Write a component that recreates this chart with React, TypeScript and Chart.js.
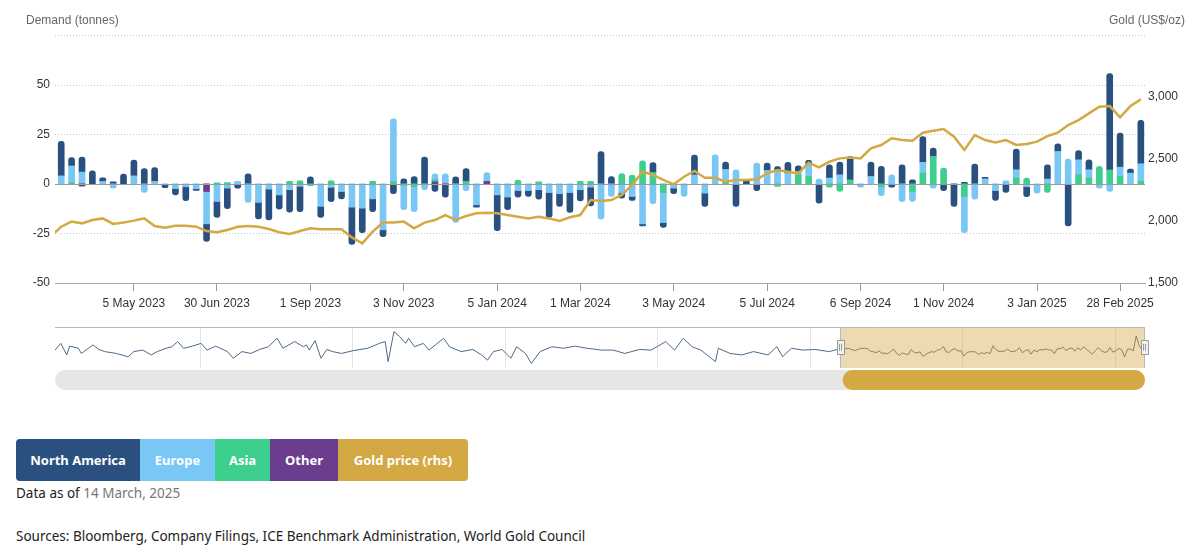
import { useEffect, useRef } from 'react';
import { Chart, registerables } from 'chart.js';

Chart.register(...registerables);

// Weekly ETF gold demand by region (tonnes), weeks ending 17 Mar 2023 .. 14 Mar 2025
const northAmerica = [
  17.4, 4.2, 7.6, 6.6, 1.8, 1.0, 4.9, 7.9, 7.7, 7.0,
  -1.5, -3.2, -7.0, -0.8, -8.9, -8.0, -10.3, -2.2, 5.0, -8.3,
  -15.5, -7.2, -11.3, -12.8, 3.5, -5.6, -7.2, -3.7, -18.7, -12.3,
  -6.4, -3.4, -5.0, 2.5, 3.7, 13.5, -3.8, -5.7, 3.5, 6.5,
  -1.2, 0, -18.0, -6.4, -3.4, -3.0, -4.7, -12.5, -6.4, -10.0,
  -5.6, -9.4, 16.3, 3.7, -2.5, -2.0, -1.0, 5.0, -2.5, -2.8,
  0, 10.0, -6.7, 0, 3.8, -11.4, 2.0, -3.4, 3.7, 2.5,
  5.4, 2.9, 2.2, -9.8, 6.7, 6.4, 11.8, 0, 7.2, 8.8,
  -1.7, 9.6, 2.0, 13.0, 4.2, -3.4, -11.4, 0.7, 10.0, 0.8,
  -5.0, -4.4, 10.4, -5.0, 0, 7.2, 3.9, -21.2, 4.7, 5.0,
  0, 48.5, 17.2, 2.0, 21.9,
];

const europe = [
  4.0, 8.5, 5.9, 0, 1.2, -2.2, 0, 4.0, -4.4, 1.2,
  -0.5, -2.4, -1.5, -2.5, -16.3, -8.9, -2.2, 1.2, -9.4, -9.4,
  -2.7, -5.6, -3.0, -1.3, 0, -11.4, -1.8, -3.9, -11.8, -12.3,
  -7.6, -23.2, 31.5, -12.3, -12.5, -3.0, 3.0, 5.0, -19.5, -3.5,
  -10.6, 4.5, -5.6, -6.7, -3.4, -3.4, -3.0, -4.4, -5.0, -4.4,
  -3.0, -1.7, -17.8, -6.4, -4.7, -6.4, -20.2, -10.0, -15.0, -2.2,
  -6.4, 4.5, -4.7, 14.6, 6.0, 7.0, 0, 10.4, 6.7, 6.2,
  5.4, 1.7, 5.9, 2.4, 2.9, 4.5, 0, -1.7, 3.7, -4.5,
  4.5, -9.0, -5.0, 5.4, -2.2, 0, 0, -18.2, -7.7, 2.5,
  -3.4, 1.5, 4.2, -1.5, -4.7, 2.4, 16.3, 12.4, 7.6, 4.2,
  -2.2, -3.9, 4.7, 5.4, 8.9,
];

const asia = [
  0, 0.5, 0, 0, 0, 0, 0, 0, 0, 0,
  0, 0, 0, 0, 0, 0.5, 0.6, 0, 0, 0,
  0, 0, 1.3, 1.5, -1.0, 0, 1.5, 0, 0, 0,
  1.2, 0, 1.2, -0.8, -1.5, 0, 1.0, 0, 0, 1.2,
  0, 0, 0, 0, 1.7, 0, 1.0, 0, 0, 0,
  1.3, 1.3, 0, 0, 5.2, 4.4, 11.6, 5.7, -4.5, 0,
  0, 0, 0, 0, 1.2, 0, 0, 0, 0, -1.3,
  0, 4.5, 3.7, 0, -1.7, -3.9, 2.0, 0, 0, -1.5,
  0, 0, -3.9, 5.4, 13.8, 7.9, 0, -6.4, 0, 0,
  0, 0, 2.9, 2.9, 0, -4.4, 0, 0, 4.5, 2.9,
  8.8, 7.0, 3.7, 0, 1.2,
];

const other = [
  0, 0, -1.2, 0, 0, 0, 0, 0, 0, 0,
  0, 0, 0, 0, -3.9, 0, 0, 0, 0, 0,
  0, 0, 0, 0, 0, 0, 0, 0, 0, 0,
  0, 0, 0, 0, 0, 0, 1.0, -1.0, 0, 0,
  0, 1.2, 0, 0, 0, 0, 0, 0, 0, 0,
  0, 0, 0, 0, 0, 0, 0, 0, 0, 0,
  0, 0, 0, 0, 0, 0, 0, 0, 0, 0,
  0, 0, 0, 0, 0, 0, 0, 0, 0, 0,
  0, 0, 0, 0, 0, 0, 0, 0, 0, 0,
  0, 0, 0, 0, 0, 0, 0, 0, 0, 0,
  0, 0, 0, 0, 0,
];

// Gold price (US$/oz); first value is the week ending 10 Mar 2023
const goldPrice = [
  1875,
  1954, 1995, 1981, 2008, 2021, 1976, 1987, 2003, 2021, 1960,
  1946, 1962, 1962, 1954, 1919, 1909, 1927, 1954, 1960, 1954,
  1935, 1909, 1895, 1919, 1941, 1933, 1933, 1933, 1868, 1820,
  1914, 1987, 1987, 1995, 1941, 1987, 2008, 2048, 2008, 2040,
  2062, 2067, 2062, 2048, 2035, 2021, 2035, 2021, 2000, 2030,
  2048, 2169, 2161, 2169, 2210, 2290, 2398, 2371, 2331, 2296,
  2357, 2403, 2349, 2349, 2317, 2331, 2331, 2336, 2384, 2411,
  2398, 2384, 2470, 2433, 2478, 2505, 2513, 2505, 2586, 2613,
  2667, 2653, 2648, 2712, 2728, 2742, 2680, 2573, 2693, 2653,
  2634, 2653, 2613, 2621, 2640, 2685, 2712, 2774, 2814, 2868,
  2922, 2927, 2836, 2927, 2981,
];

const tickDates = [
  '2023-05-05', '2023-06-30', '2023-09-01', '2023-11-03', '2024-01-05', '2024-03-01',
  '2024-05-03', '2024-07-05', '2024-09-06', '2024-11-01', '2025-01-03', '2025-02-28',
];
const tickLabels = [
  '5 May 2023', '30 Jun 2023', '1 Sep 2023', '3 Nov 2023', '5 Jan 2024', '1 Mar 2024',
  '3 May 2024', '5 Jul 2024', '6 Sep 2024', '1 Nov 2024', '3 Jan 2025', '28 Feb 2025',
];

// Earlier North America history for the navigator (weeks before 17 Mar 2023)
const navHistWeeks = [
  -269, -267, -265, -264, -261, -260, -256, -254, -252, -248, -244, -242, -239, -236, -234,
  -231, -229, -227, -225, -222, -219, -217, -214, -210, -208, -205, -202, -199, -196, -193,
  -191, -189, -187, -184, -183, -182, -180, -178, -176, -174, -171, -167, -162, -158, -156,
  -155, -153, -151, -149, -148, -146, -143, -141, -136, -134, -130, -126, -123, -121, -119,
  -116, -113, -111, -108, -106, -103, -99, -95, -91, -87, -82, -78, -74, -69, -65,
  -60, -57, -54, -51, -48, -43, -42, -38, -34, -30, -25, -22, -20, -17, -13, -9, -4, -1,
];
const navHistFlows = [
  2, 24, -14, 15, 8, -9, 19, 4, -3, -9, -20, -3, 2, -14, -3,
  8, 13, 30, 8, 15, 24, 2, 15, -3, -25, -3, -9, 4, 13, 41,
  8, 19, 30, 13, 19, 2, 33, -25, 4, -3, -9, 0, 8, 24, 30,
  -36, 63, 46, 24, 41, 13, 24, 2, 41, 13, -3, 4, -14, -31, -3,
  4, -25, 13, -9, -42, -3, 13, 8, 15, 8, 2, 2, -9, 4, 2,
  30, 2, 41, 13, 2, -36, 8, -9, -14, -3, -14, 13, -20, 8, 2, 4, -3, 5,
];
const navYears = [2019, 2020, 2021, 2022, 2023, 2024, 2025];

const FIRST_WEEK = Date.UTC(2023, 2, 17);
const WEEK_MS = 7 * 24 * 3600 * 1000;
const tickWeeks = tickDates.map((d) => Math.round((Date.parse(d + 'T00:00:00Z') - FIRST_WEEK) / WEEK_MS));

const NAVY = '#29507e';
const LIGHT_BLUE = '#79c7f4';
const GREEN = '#3ecf8e';
const PURPLE = '#6b3d8f';
const GOLD = '#d4a843';

Chart.defaults.font.family = '"Liberation Sans", Arial, sans-serif';
Chart.defaults.font.size = 12;

// Plot frame of the demand chart inside its canvas
const PLOT_LEFT = 55;
const PLOT_RIGHT = 1145;

const demandPlugin = {
  id: 'demandDecor',
  beforeDatasetsDraw(chart: any) {
    const { ctx, chartArea, scales } = chart;
    const y = scales.y;
    ctx.save();
    ctx.strokeStyle = '#c8c8c8';
    ctx.lineWidth = 1;
    ctx.setLineDash([1, 2]);
    for (const t of y.ticks) {
      if (t.value === 0 || t.value === y.min) continue;
      const py = Math.round(y.getPixelForValue(t.value)) + 0.5;
      ctx.beginPath();
      ctx.moveTo(chartArea.left, py);
      ctx.lineTo(chartArea.right, py);
      ctx.stroke();
    }
    ctx.restore();
  },
  afterDatasetDraw(chart: any, args: any) {
    if (args.index !== 1) return;
    const { ctx, chartArea, scales } = chart;
    const py = Math.round(scales.y.getPixelForValue(0)) + 0.5;
    ctx.save();
    ctx.strokeStyle = '#9a9a9a';
    ctx.lineWidth = 1;
    ctx.beginPath();
    ctx.moveTo(chartArea.left, py);
    ctx.lineTo(chartArea.right, py);
    ctx.stroke();
    ctx.restore();
  },
  afterDraw(chart: any) {
    const { ctx, chartArea, scales } = chart;
    ctx.save();
    ctx.fillStyle = '#666';
    ctx.font = '12px "Liberation Sans", Arial, sans-serif';
    ctx.textBaseline = 'middle';
    ctx.textAlign = 'left';
    ctx.fillText('Demand (tonnes)', 26, 21);
    ctx.textAlign = 'right';
    ctx.fillText('Gold (US$/oz)', 1185, 21);

    // value axis labels: tonnes on the left, US$/oz on the right
    ctx.fillStyle = '#333';
    ctx.textAlign = 'right';
    for (const t of scales.y.ticks) {
      if (t.value === scales.y.max) continue;
      ctx.fillText(String(t.value), chartArea.left - 5, scales.y.getPixelForValue(t.value));
    }
    ctx.textAlign = 'left';
    for (const t of scales.y1.ticks) {
      if (t.value === scales.y1.max) continue;
      ctx.fillText(Number(t.value).toLocaleString('en-US'), chartArea.right + 3, scales.y1.getPixelForValue(t.value));
    }
    ctx.restore();
  },
};

const navigatorPlugin = {
  id: 'navigatorDecor',
  beforeDatasetsDraw(chart: any) {
    const { ctx, chartArea, scales } = chart;
    ctx.save();
    ctx.strokeStyle = '#e4e4e4';
    ctx.lineWidth = 1;
    for (const yr of navYears) {
      const w = (Date.UTC(yr, 0, 1) - FIRST_WEEK) / WEEK_MS;
      const px = Math.round(scales.x.getPixelForValue(w)) + 0.5;
      ctx.beginPath();
      ctx.moveTo(px, chartArea.top);
      ctx.lineTo(px, chartArea.bottom);
      ctx.stroke();
    }
    ctx.restore();
  },
  afterDatasetsDraw(chart: any) {
    const { ctx, chartArea, scales } = chart;
    const sx = Math.round(scales.x.getPixelForValue(-0.5)) + 0.5;
    const ex = Math.round(chartArea.right) - 0.5;
    const top = Math.round(chartArea.top) + 0.5;
    const bottom = chartArea.bottom;
    ctx.save();
    ctx.fillStyle = 'rgba(212,168,67,0.42)';
    ctx.fillRect(sx, top, ex - sx, bottom - top);
    ctx.strokeStyle = '#b9b9b9';
    ctx.lineWidth = 1;
    ctx.beginPath();
    ctx.moveTo(chartArea.left, top);
    ctx.lineTo(chartArea.right, top);
    ctx.moveTo(sx, top);
    ctx.lineTo(sx, bottom);
    ctx.moveTo(ex, top);
    ctx.lineTo(ex, bottom);
    ctx.stroke();
    const mid = (top + bottom) / 2 - 1;
    for (const hx of [sx, ex]) {
      ctx.fillStyle = '#f2f2f2';
      ctx.strokeStyle = '#999';
      ctx.beginPath();
      ctx.rect(Math.round(hx - 4) + 0.5, Math.round(mid - 7) + 0.5, 7, 14);
      ctx.fill();
      ctx.stroke();
      ctx.beginPath();
      ctx.moveTo(Math.round(hx - 2) + 0.5, mid - 3);
      ctx.lineTo(Math.round(hx - 2) + 0.5, mid + 4);
      ctx.moveTo(Math.round(hx) + 0.5, mid - 3);
      ctx.lineTo(Math.round(hx) + 0.5, mid + 4);
      ctx.stroke();
    }
    ctx.restore();
  },
  afterDraw(chart: any) {
    const { ctx, chartArea, scales } = chart;
    const sx = scales.x.getPixelForValue(-0.5);
    const y0 = chartArea.bottom + 2;
    const h = 20;
    const round = (x0: number, x1: number, color: string) => {
      ctx.fillStyle = color;
      ctx.beginPath();
      ctx.roundRect(x0, y0, x1 - x0, h, h / 2);
      ctx.fill();
    };
    ctx.save();
    round(chartArea.left, chartArea.right, '#e6e6e6');
    round(sx + 3, chartArea.right, GOLD);
    ctx.restore();
  },
};

export default function App() {
  const mainRef = useRef<HTMLCanvasElement>(null);
  const navRef = useRef<HTMLCanvasElement>(null);

  useEffect(() => {
    const toPoints = (values: number[]) =>
      values.map((v, i) => ({ x: i, y: v === 0 ? null : v }));
    const barSet = (label: string, values: number[], color: string) => ({
      type: 'bar' as const,
      label,
      yAxisID: 'y',
      data: toPoints(values),
      backgroundColor: color,
      barThickness: 6,
      borderRadius: 3,
      borderSkipped: 'start' as const,
      order: 0,
    });

    const main = new Chart(mainRef.current!, {
      type: 'bar',
      data: {
        datasets: [
          {
            type: 'line',
            label: 'Gold price (rhs)',
            yAxisID: 'y1',
            data: goldPrice.map((v, i) => ({ x: i - 1, y: v })),
            borderColor: GOLD,
            borderWidth: 2.5,
            pointRadius: 0,
            tension: 0,
            order: -1,
          } as any,
          barSet('Other', other, PURPLE),
          barSet('Asia', asia, GREEN),
          barSet('Europe', europe, LIGHT_BLUE),
          barSet('North America', northAmerica, NAVY),
        ],
      },
      options: {
        animation: false,
        responsive: false,
        events: [],
        layout: {
          autoPadding: false,
          padding: { top: 35, left: PLOT_LEFT, right: 1200 - PLOT_RIGHT, bottom: 0 },
        },
        plugins: { legend: { display: false }, tooltip: { enabled: false } },
        scales: {
          x: {
            type: 'linear',
            min: -0.6,
            max: 104.4,
            offset: false,
            bounds: 'data',
            stacked: true,
            afterBuildTicks: (s: any) => {
              s.ticks = tickWeeks.map((v) => ({ value: v }));
            },
            afterFit: (s: any) => {
              s.height = 37;
              s.paddingLeft = 0;
              s.paddingRight = 0;
            },
            ticks: {
              autoSkip: false,
              maxRotation: 0,
              padding: 5,
              color: '#333',
              callback: (v: any) => tickLabels[tickWeeks.indexOf(Number(v))] ?? '',
            },
            grid: {
              display: true,
              offset: false,
              drawOnChartArea: false,
              drawTicks: true,
              tickLength: 8,
              color: '#999',
            },
            border: { display: true, color: '#aaa' },
          },
          y: {
            display: false,
            min: -50,
            max: 75,
            stacked: true,
            ticks: { stepSize: 25 },
          },
          y1: {
            display: false,
            min: 1500,
            max: 3500,
            ticks: { stepSize: 500 },
          },
        },
      } as any,
      plugins: [demandPlugin],
    });

    const navPoints = [
      ...navHistWeeks.map((w, k) => ({ x: w, y: navHistFlows[k] })),
      ...northAmerica.map((v, i) => ({ x: i, y: v })),
    ];
    const nav = new Chart(navRef.current!, {
      type: 'line',
      data: {
        datasets: [
          {
            data: navPoints,
            borderColor: '#4d6a88',
            borderWidth: 1,
            pointRadius: 0,
            tension: 0,
          },
        ],
      },
      options: {
        animation: false,
        responsive: false,
        events: [],
        layout: { autoPadding: false, padding: { left: PLOT_LEFT, right: 1200 - PLOT_RIGHT, top: 7, bottom: 27 } },
        plugins: { legend: { display: false }, tooltip: { enabled: false } },
        scales: {
          x: { type: 'linear', display: false, min: -269, max: 104 },
          y: { display: false, min: -57, max: 78 },
        },
      } as any,
      plugins: [navigatorPlugin],
    });

    return () => {
      main.destroy();
      nav.destroy();
    };
  }, []);

  const legendBox = (label: string, color: string, width: number) => (
    <div
      style={{
        width,
        background: color,
        display: 'flex',
        alignItems: 'center',
        justifyContent: 'center',
      }}
    >
      {label}
    </div>
  );

  return (
    <div
      style={{
        position: 'absolute',
        left: 0,
        top: 0,
        width: 1200,
        height: 557,
        background: '#fff',
        overflow: 'hidden',
      }}
    >
      <canvas ref={mainRef} width={1200} height={320} style={{ position: 'absolute', left: 0, top: 0 }} />
      <canvas ref={navRef} width={1200} height={75} style={{ position: 'absolute', left: 0, top: 320 }} />
      <div
        style={{
          position: 'absolute',
          left: 16,
          top: 439,
          height: 42,
          display: 'flex',
          borderRadius: 4,
          overflow: 'hidden',
          color: '#fff',
          font: 'bold 13px "Noto Sans", "Open Sans", sans-serif',
        }}
      >
        {legendBox('North America', NAVY, 124)}
        {legendBox('Europe', LIGHT_BLUE, 75)}
        {legendBox('Asia', GREEN, 55)}
        {legendBox('Other', PURPLE, 68)}
        {legendBox('Gold price (rhs)', GOLD, 130)}
      </div>
      <div
        style={{
          position: 'absolute',
          left: 16,
          top: 483,
          font: '13.5px "Noto Sans", "Open Sans", sans-serif',
          lineHeight: '20px',
          color: '#222',
        }}
      >
        Data as of <span style={{ color: '#777' }}>14 March, 2025</span>
      </div>
      <div
        style={{
          position: 'absolute',
          left: 16,
          top: 526,
          font: '13.5px "Noto Sans", "Open Sans", sans-serif',
          lineHeight: '20px',
          color: '#222',
          whiteSpace: 'nowrap',
        }}
      >
        Sources: Bloomberg, Company Filings, ICE Benchmark Administration, World Gold Council
      </div>
    </div>
  );
}
